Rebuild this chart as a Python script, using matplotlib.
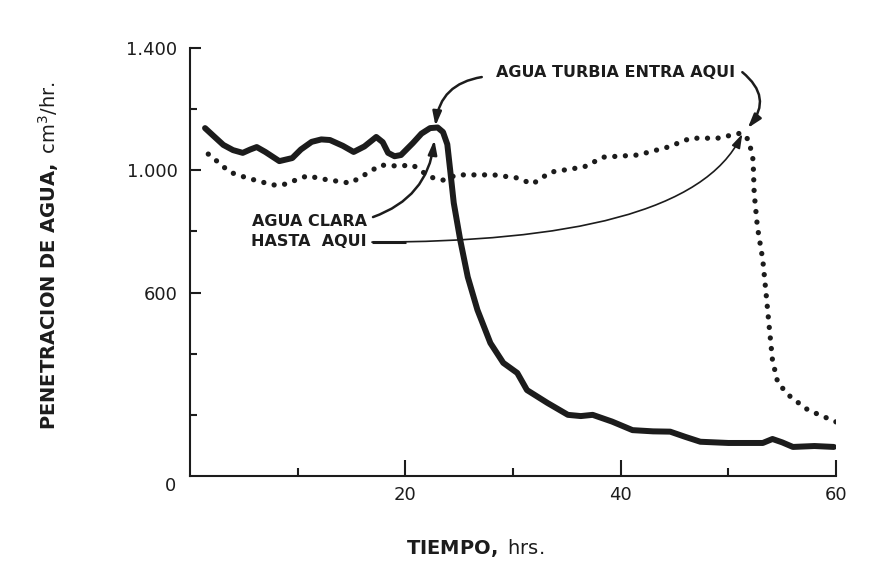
import numpy as np
import matplotlib
matplotlib.use("Agg")
import matplotlib.pyplot as plt
from matplotlib.path import Path
from matplotlib.patches import FancyArrowPatch

# curva continua: agua clara, luego agua turbia a las ~23 h
solid_x = [1.4, 2.2, 3.1, 4.0, 4.9, 5.6, 6.2, 7.0, 8.3, 9.5, 10.3, 11.3, 12.2, 13.0,
           14.2, 15.2, 16.2, 17.3, 17.9, 18.4, 19.0, 19.6, 20.7, 21.5, 22.3, 23.0,
           23.5, 23.9, 24.2, 24.5, 25.1, 25.8, 26.7, 27.9, 29.1, 30.4, 31.3, 33.2,
           35.1, 36.3, 37.4, 39.2, 41.1, 43.0, 44.6, 46.0, 47.4, 50.0, 53.2, 54.1,
           55.0, 56.0, 58.0, 59.8]
solid_y = [1138, 1112, 1083, 1066, 1057, 1068, 1076, 1060, 1030, 1040, 1068, 1093, 1101, 1099,
           1080, 1060, 1078, 1109, 1092, 1057, 1046, 1050, 1089, 1120, 1138, 1140,
           1125, 1085, 990, 893, 772, 651, 543, 435, 370, 337, 281, 239,
           200, 196, 200, 178, 150, 146, 145, 128, 112, 108, 108, 121,
           110, 95, 98, 95]

# curva punteada: agua clara hasta ~52 h
dot_x = [1.7, 2.5, 3.7, 5.3, 7.7, 8.6, 10.9, 12.4, 14.9, 16.5, 17.7, 19.3, 20.7,
         22.3, 23.5, 24.8, 28.2, 30.4, 31.8, 33.5, 36.6, 38.4, 41.6, 44.4, 46.5,
         49.0, 51.2, 51.9, 52.3, 52.4, 52.7, 53.2, 53.5, 53.8, 54.1, 54.6, 55.8, 57.4, 60.0]
dot_y = [1053, 1030, 994, 975, 952, 952, 982, 971, 958, 991, 1017, 1014, 1017,
         978, 968, 985, 985, 975, 955, 994, 1011, 1043, 1050, 1076, 1105,
         1105, 1122, 1099, 1034, 926, 815, 707, 599, 487, 379, 304, 258, 216, 177]

ink = "#1c1c1c"

fig = plt.figure(figsize=(8.84, 5.75), dpi=100)
ax = fig.add_axes([0.2149, 0.1722, 0.7308, 0.7443])

ax.plot(solid_x, solid_y, color=ink, lw=4.3, solid_joinstyle="round", solid_capstyle="round")
ax.plot(dot_x, dot_y, color=ink, lw=3.8, linestyle=(0, (0.01, 2.0)), dash_capstyle="round")

ax.set_xlim(0, 60)
ax.set_ylim(0, 1400)

for s in ["top", "right"]:
    ax.spines[s].set_visible(False)
for s in ["left", "bottom"]:
    ax.spines[s].set_linewidth(1.5)
    ax.spines[s].set_color(ink)

ax.set_xticks([20, 40, 60])
ax.set_xticks([10, 30, 50], minor=True)
ax.set_yticks([600, 1000, 1400])
ax.set_yticks([200, 400, 800, 1200], minor=True)
ax.set_yticklabels(["600", "1.000", "1.400"])
ax.tick_params(axis="x", which="major", direction="in", length=11.5, width=1.5,
               pad=7, labelsize=13, colors=ink)
ax.tick_params(axis="x", which="minor", direction="in", length=5.5, width=1.5, colors=ink)
ax.tick_params(axis="y", which="major", direction="in", length=8, width=1.5,
               pad=9, labelsize=13, colors=ink)
ax.tick_params(axis="y", which="minor", direction="in", length=5, width=1.5, colors=ink)
ax.text(-0.03, -0.023, "0", transform=ax.transAxes, ha="center", va="center",
        fontsize=13, color=ink)

ax.set_ylabel(r"$\mathbf{PENETRACION\ DE\ AGUA,}$ cm$^3$/hr.", fontsize=14, color=ink)
ax.yaxis.set_label_coords(-0.2, 0.516)
ax.set_xlabel(r"$\mathbf{TIEMPO,}$ hrs.", fontsize=14, color=ink)
ax.xaxis.set_label_coords(0.441, -0.143)

# anotaciones
ax.text(39.5, 1321, "AGUA TURBIA ENTRA AQUI", ha="center", va="center",
        fontsize=11.5, fontweight="bold", color=ink)
ax.text(16.4, 831, "AGUA CLARA", ha="right", va="center",
        fontsize=11.5, fontweight="bold", color=ink)
ax.text(16.4, 768, "HASTA  AQUI", ha="right", va="center",
        fontsize=11.5, fontweight="bold", color=ink)

arrow = dict(arrowstyle="-|>,head_length=0.7,head_width=0.22", color=ink,
             shrinkA=0, shrinkB=0, mutation_scale=12)
ax.annotate("", xy=(22.8, 1145), xytext=(27.1, 1305),
            arrowprops=dict(arrow, lw=1.8, connectionstyle="arc3,rad=0.38"))
ax.annotate("", xy=(51.8, 1138), xytext=(51.3, 1321),
            arrowprops=dict(arrow, lw=1.8, connectionstyle="arc3,rad=-0.5"))
ax.annotate("", xy=(22.7, 1099), xytext=(17.0, 847),
            arrowprops=dict(arrow, lw=1.8, connectionstyle="arc3,rad=0.31"))

ax.plot([16.9, 20.1], [765, 765], color=ink, lw=2.2, solid_capstyle="butt")
hasta = Path([(16.9, 765), (35.3, 765), (47.8, 864), (51.3, 1119)],
             [Path.MOVETO, Path.CURVE4, Path.CURVE4, Path.CURVE4])
ax.add_patch(FancyArrowPatch(path=hasta, arrowstyle="-|>,head_length=0.7,head_width=0.22",
                             mutation_scale=12, lw=1.2, color=ink))

fig.savefig("out.png", dpi=100, facecolor="white")
